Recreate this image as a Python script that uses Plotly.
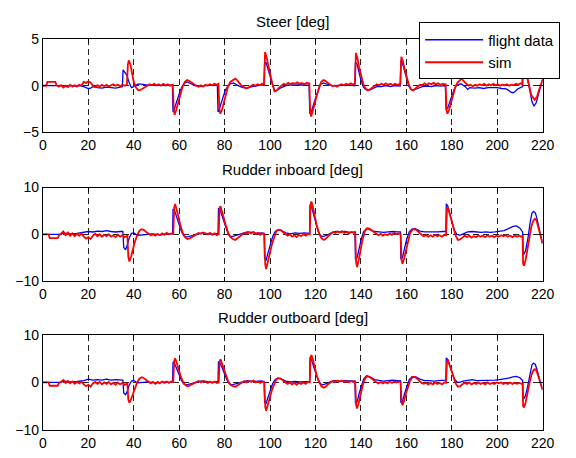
import plotly.graph_objects as go

# Time histories: (time [s], value [deg]) pairs for flight data and simulation.
STEER_FLIGHT = [
    (0, 0), (2, 0), (4, 0.05), (6, 0), (8, 0), (10, 0.05), (12, 0), (14, -0.05), (16, 0), (18, -0.1),
    (19, -0.2), (20, -0.3), (21, -0.25), (22, -0.1), (24, -0.2), (26, -0.25), (28, -0.15), (30, -0.2),
    (32, -0.25), (34, -0.15), (35, -0.1), (35.3, 1.7), (36, 1.5), (37, 1.1), (38, 0.3), (39, -0.2),
    (40, -0.1), (42, 0.2), (44, 0.15), (46, 0.05), (48, 0.1), (50, 0.0), (52, 0.05), (54, 0.0), (56, 0.05),
    (57, 0.0), (57.3, -2.8), (57.8, -2.6), (58.5, -2.0), (59.5, -1.2), (60.5, -0.5), (61.5, 0.0), (62.5, 0.3),
    (63.5, 0.4), (65, 0.2), (67, 0.0), (69, -0.1), (71, 0.0), (73, 0.05), (75, 0.0), (76.8, 0.05),
    (77.1, -2.8), (77.6, -2.6), (78.3, -2.0), (79.3, -1.2), (80.3, -0.5), (81.3, -0.1), (82.5, 0.2),
    (84, 0.3), (86, 0.0), (88, -0.2), (90, -0.25), (92, -0.1), (94, 0.0), (96, 0.05), (97.3, 0.05),
    (97.6, 2.2), (98.2, 2.5), (99, 1.8), (100, 0.9), (101, 0.0), (102, -0.6), (103, -0.5), (105, -0.2),
    (107, 0.0), (109, 0.1), (111, 0.05), (113, 0.1), (115, 0.05), (117.2, 0.05), (117.5, -3.0),
    (118.2, -2.8), (119, -2.1), (120, -1.3), (121, -0.5), (122, 0.1), (123.5, 0.3), (125, 0.15), (127, 0.0),
    (129, 0.0), (131, 0.05), (133, 0.0), (135, 0.05), (137.3, 0.0), (137.6, 2.5), (138.3, 2.3), (139, 1.5),
    (140, 0.6), (141, -0.1), (142, -0.4), (143.5, -0.5), (145, -0.3), (147, -0.1), (149, -0.1), (151, 0.0),
    (153, -0.1), (155, 0.0), (157.3, -0.05), (157.6, 2.7), (158.2, 2.5), (159, 1.7), (160, 0.8), (161, 0.0),
    (162, -0.4), (163, -0.5), (165, -0.3), (167, -0.1), (169, -0.05), (171, -0.1), (173, 0.0), (175, -0.05),
    (177.2, 0.0), (177.5, -2.5), (178.2, -2.4), (179, -1.8), (180, -1.1), (181, -0.4), (182, 0.0),
    (184, 0.2), (186, -0.1), (187, -0.4), (188, -0.2), (190, -0.25), (192, -0.2), (194, -0.3), (196, -0.2),
    (198, -0.2), (200, -0.2), (202, -0.3), (204, -0.35), (205, -0.5), (206, -0.7), (207, -0.75),
    (208, -0.6), (209, -0.35), (210, -0.2), (211.2, -0.1), (211.5, 2.3), (212.3, 2.0), (213.3, 0.8),
    (214.3, -0.6), (215.3, -1.7), (216.2, -2.2), (217.2, -1.8), (218.2, -0.9), (219.2, 0.0), (220, 0.7),
]

STEER_SIM = [
    (0, 0), (1.5, 0), (2, 0.4), (5.5, 0.4), (6, 0.05), (7, -0.1), (8, 0.05), (9, -0.2), (10, 0.0),
    (11, -0.15), (12, 0.1), (13, -0.1), (14, 0.05), (15, -0.1), (16, 0.1), (17, 0.0), (18, 0.4), (19, 0.3),
    (20, 0.45), (21, 0.35), (22, 0.0), (23, -0.15), (24, 0.05), (25, -0.1), (26, 0.1), (27, -0.05),
    (28, 0.1), (29, -0.1), (30, 0.05), (31, 0.15), (32, 0.0), (33, 0.1), (34, -0.05), (35, 0.1), (36, 0.0),
    (37, 0.1), (37.4, 2.2), (37.8, 2.7), (38.5, 2.3), (39.3, 1.2), (40, 0.4), (41, -0.2), (42, -0.5),
    (43, -0.45), (44, -0.3), (45, -0.1), (46, 0.0), (47, 0.15), (48, 0.05), (49, 0.2), (50, 0.05),
    (51, 0.15), (52, 0.0), (53, 0.2), (54, 0.05), (55, 0.15), (56, 0.0), (57.2, 0.1), (57.6, -2.6),
    (58, -3.1), (58.7, -2.6), (59.5, -1.8), (60.5, -0.9), (61.5, -0.1), (62.5, 0.4), (63.5, 0.6),
    (64.5, 0.5), (65.5, 0.3), (66.5, 0.15), (67.5, 0.0), (68.5, -0.1), (69.5, 0.05), (70.5, -0.1),
    (71.5, 0.1), (72.5, 0.0), (73.5, 0.15), (74.5, 0.05), (75.5, 0.2), (76.5, 0.1), (77.3, 0.2),
    (77.7, -2.5), (78.1, -3.0), (78.8, -2.6), (79.6, -1.8), (80.5, -0.9), (81.5, -0.1), (82.5, 0.4),
    (83.5, 0.6), (84.7, 0.75), (85.5, 0.6), (86.5, 0.3), (87.5, 0.0), (88.5, -0.15), (89.5, -0.3),
    (90.5, -0.2), (91.5, -0.05), (92.5, 0.1), (93.5, 0.0), (94.5, 0.15), (95.5, 0.05), (96.5, 0.2),
    (97.4, 0.15), (97.8, 3.6), (98.5, 3.0), (99.2, 2.2), (100, 1.2), (101, 0.2), (102, -0.6), (103, -0.5),
    (104, -0.2), (105, 0.0), (106, 0.2), (107, 0.1), (108, 0.3), (109, 0.15), (110, 0.3), (111, 0.2),
    (112, 0.35), (113, 0.2), (114, 0.3), (115, 0.15), (116, 0.3), (117.3, 0.25), (117.7, -2.8),
    (118.1, -3.3), (118.8, -2.8), (119.6, -2.0), (120.5, -1.1), (121.5, -0.2), (122.5, 0.4), (123.5, 0.6),
    (124.5, 0.5), (125.5, 0.3), (126.5, 0.1), (127.5, -0.05), (128.5, 0.0), (129.5, -0.1), (130.5, 0.05),
    (131.5, 0.15), (132.5, 0.05), (133.5, 0.2), (134.5, 0.1), (135.5, 0.25), (136.5, 0.15), (137.4, 0.2),
    (137.8, 3.5), (138.5, 2.9), (139.2, 2.0), (140, 1.1), (141, 0.2), (142, -0.3), (143, -0.5),
    (144, -0.4), (145, -0.2), (146, 0.0), (147, 0.15), (148, 0.05), (149, 0.2), (150, 0.1), (151, 0.25),
    (152, 0.1), (153, 0.2), (154, 0.05), (155, 0.2), (156, 0.1), (157.4, 0.2), (157.8, 3.1), (158.5, 2.6),
    (159.2, 1.8), (160, 1.0), (161, 0.2), (162, -0.4), (163, -0.5), (164, -0.3), (165, -0.1), (166, 0.1),
    (167, 0.05), (168, 0.25), (169, 0.1), (170, 0.25), (171, 0.15), (172, 0.3), (173, 0.15), (174, 0.25),
    (175, 0.1), (176, 0.2), (177.3, 0.15), (177.7, -2.6), (178.1, -3.0), (178.8, -2.6), (179.6, -1.9),
    (180.5, -1.0), (181.5, -0.2), (182.5, 0.3), (183.5, 0.6), (184.3, 0.75), (185.3, 0.5), (186.3, 0.2),
    (187.3, 0.0), (188.3, 0.1), (189.3, -0.05), (190.3, 0.1), (191.3, 0.0), (192.3, 0.15), (193.3, 0.05),
    (194.3, 0.2), (195.3, 0.0), (196.3, 0.15), (197.3, 0.05), (198.3, 0.2), (199.3, 0.05), (200.3, 0.15),
    (201.3, 0.0), (202.3, 0.1), (203.3, 0.05), (204.3, 0.15), (205.3, 0.0), (206.3, 0.1), (207.3, 0.05),
    (208.3, 0.2), (209.3, 0.1), (210.3, 0.25), (211, 0.15), (211.3, 2.6), (212, 2.3), (213, 1.2),
    (214, 0.0), (215, -1.0), (216.5, -1.5), (217.5, -1.2), (218.5, -0.4), (219.5, 0.3), (220, 0.6),
]

RUDDER_IN_FLIGHT = [
    (0, 0), (4, 0), (8, 0), (9, 0.3), (12, 0.1), (15, 0.2), (18, 0.4), (20, 0.6), (22, 0.5), (24, 0.7),
    (26, 0.6), (28, 0.8), (30, 0.6), (32, 0.5), (34, 0.6), (35.2, 0.6), (35.6, -2.8), (36.4, -3.3),
    (37.2, -2.2), (38, -0.8), (39, 0.2), (40, 0.3), (41, 0.0), (42, -0.2), (44, -0.1), (46, 0.0), (48, 0.1),
    (50, 0.0), (52, -0.1), (54, 0.1), (56, 0.0), (57.1, 0.1), (57.3, 5.4), (58, 5.0), (59, 3.5), (60, 2.0),
    (61, 0.6), (62, -0.3), (63, -0.6), (64, -0.5), (66, -0.3), (68, 0.0), (70, 0.3), (72, 0.2), (74, 0.0),
    (76, 0.1), (77.1, 0.2), (77.3, 5.6), (78, 5.2), (79, 3.8), (80, 2.2), (81, 0.8), (82, -0.2), (83, -0.5),
    (84, -0.4), (86, -0.1), (88, 0.3), (90, 0.5), (92, 0.4), (94, 0.2), (96, 0.3), (97.4, 0.2),
    (97.6, -5.2), (98.3, -5.5), (99.2, -3.8), (100.2, -2.0), (101.2, -0.4), (102.3, 0.6), (103.5, 1.0),
    (105, 0.8), (107, 0.3), (109, 0.1), (111, 0.3), (113, 0.2), (115, 0.3), (117.4, 0.2), (117.6, 6.3),
    (118.3, 5.8), (119.2, 4.0), (120.2, 2.2), (121.2, 0.6), (122.3, -0.3), (123.3, -0.5), (125, -0.2),
    (127, 0.3), (129, 0.6), (131, 0.5), (133, 0.6), (135, 0.4), (137.4, 0.5), (137.6, -5.2), (138.3, -5.0),
    (139.2, -3.0), (140.2, -1.0), (141.2, 0.6), (142.5, 1.2), (144, 1.0), (146, 0.6), (148, 0.5),
    (150, 0.4), (152, 0.5), (154, 0.6), (156, 0.5), (157.4, 0.5), (157.6, -5.3), (158.3, -5.0),
    (159.2, -3.0), (160.2, -1.0), (161.3, 0.5), (162.5, 1.1), (164, 1.2), (166, 0.7), (168, 0.5),
    (170, 0.5), (172, 0.4), (174, 0.5), (176, 0.6), (177.4, 0.6), (177.6, 6.5), (178.3, 6.0), (179.2, 4.3),
    (180.2, 2.4), (181.2, 0.8), (182.3, 0.0), (183.5, -0.2), (185, 0.1), (187, 0.5), (189, 0.6), (191, 0.5),
    (193, 0.4), (195, 0.5), (197, 0.4), (199, 0.5), (201, 0.6), (203, 0.8), (205, 1.2), (207, 1.7),
    (208.5, 1.8), (210, 1.3), (211.2, 0.5), (211.5, -4.4), (212.5, -3.5), (213.5, -1.0), (214.5, 2.5),
    (215.3, 4.5), (216, 4.9), (216.8, 4.6), (217.6, 3.2), (218.5, 1.0), (219.3, -0.6), (220, -1.8),
]

RUDDER_IN_SIM = [
    (0, 0), (2.5, 0), (3, -0.8), (6.5, -0.8), (7, -0.3), (8, 0.2), (9, 0.6), (10, -0.2), (11, 0.4),
    (12, -0.3), (13, 0.2), (14, -0.4), (15, 0.1), (16, -0.3), (17, 0.2), (18, -0.5), (19, -0.9), (20, -0.6),
    (21, -1.0), (22, -0.3), (23, 0.1), (24, -0.4), (25, 0.0), (26, -0.5), (27, -0.1), (28, -0.4), (29, 0.0),
    (30, -0.5), (31, -0.2), (32, -0.6), (33, -0.1), (34, -0.5), (35, -0.2), (36, -0.6), (37.2, -0.3),
    (37.6, -4.8), (38.1, -5.8), (38.8, -4.8), (39.6, -3.2), (40.5, -1.6), (41.5, -0.2), (42.5, 0.8),
    (43.5, 1.1), (44.5, 0.9), (45.5, 0.5), (46.5, 0.1), (47.5, -0.2), (48.5, 0.0), (49.5, -0.3), (50.5, 0.1),
    (51.5, -0.2), (52.5, 0.2), (53.5, -0.1), (54.5, 0.3), (55.5, 0.0), (56.5, 0.2), (57.4, 0.1), (57.8, 5.8),
    (58.2, 6.5), (58.9, 5.3), (59.7, 3.5), (60.6, 1.8), (61.6, 0.3), (62.6, -0.6), (63.6, -1.0),
    (64.6, -0.9), (65.6, -0.6), (66.6, -0.2), (67.6, 0.0), (68.6, 0.3), (69.6, 0.1), (70.6, 0.4),
    (71.6, 0.2), (72.6, 0.0), (73.6, 0.3), (74.6, -0.1), (75.6, 0.2), (76.6, -0.2), (77.4, 0.0), (77.8, 5.6),
    (78.2, 6.0), (78.9, 5.0), (79.7, 3.4), (80.6, 1.8), (81.6, 0.3), (82.6, -0.6), (83.6, -1.0),
    (84.7, -1.2), (85.7, -0.8), (86.7, -0.3), (87.7, 0.0), (88.7, 0.3), (89.7, 0.1), (90.7, 0.4),
    (91.7, 0.2), (92.7, 0.5), (93.7, 0.1), (94.7, 0.3), (95.7, -0.1), (96.7, 0.2), (97.5, 0.0), (97.9, -6.5),
    (98.3, -7.4), (99, -6.2), (99.8, -4.3), (100.7, -2.4), (101.7, -0.6), (102.7, 0.6), (103.7, 1.0),
    (104.7, 0.9), (105.7, 0.5), (106.7, 0.1), (107.7, -0.3), (108.7, 0.0), (109.7, -0.5), (110.7, -0.2),
    (111.7, -0.6), (112.7, -0.1), (113.7, -0.4), (114.7, 0.0), (115.7, -0.3), (116.7, 0.1), (117.5, 0.0),
    (117.8, 6.2), (118.2, 7.0), (118.9, 5.8), (119.7, 3.8), (120.6, 1.8), (121.6, 0.2), (122.6, -0.8),
    (123.7, -1.2), (124.7, -0.9), (125.7, -0.3), (126.7, 0.2), (127.7, 0.5), (128.7, 0.3), (129.7, 0.6),
    (130.7, 0.4), (131.7, 0.7), (132.7, 0.3), (133.7, 0.5), (134.7, 0.2), (135.7, 0.5), (136.7, 0.3),
    (137.5, 0.4), (137.9, -6.0), (138.3, -7.0), (139, -5.6), (139.8, -3.4), (140.7, -1.2), (141.7, 0.6),
    (142.7, 1.3), (143.7, 1.2), (144.7, 0.8), (145.7, 0.4), (146.7, 0.1), (147.7, -0.2), (148.7, 0.1),
    (149.7, -0.3), (150.7, 0.0), (151.7, -0.2), (152.7, 0.2), (153.7, -0.1), (154.7, 0.3), (155.7, 0.0),
    (156.7, 0.2), (157.5, 0.1), (157.9, -5.5), (158.3, -6.3), (159, -5.2), (159.8, -3.4), (160.7, -1.4),
    (161.7, 0.3), (162.7, 1.0), (163.7, 1.1), (164.7, 0.8), (165.7, 0.3), (166.7, -0.1), (167.7, -0.4),
    (168.7, -0.2), (169.7, -0.5), (170.7, -0.2), (171.7, -0.5), (172.7, -0.1), (173.7, -0.4), (174.7, -0.2),
    (175.7, -0.5), (176.7, -0.1), (177.5, -0.2), (177.9, 5.3), (178.3, 5.8), (179, 4.6), (179.8, 3.0),
    (180.7, 1.3), (181.7, -0.3), (182.7, -1.2), (183.7, -1.1), (184.7, -0.7), (185.7, -0.3), (186.7, -0.6),
    (187.7, -0.3), (188.7, -0.7), (189.7, -0.4), (190.7, -0.6), (191.7, -0.2), (192.7, -0.5), (193.7, -0.3),
    (194.7, -0.6), (195.7, -0.2), (196.7, -0.5), (197.7, -0.3), (198.7, -0.6), (199.7, -0.3), (200.7, -0.5),
    (201.7, -0.2), (202.7, -0.4), (203.7, -0.2), (204.7, -0.5), (205.7, -0.3), (206.7, -0.6), (207.7, -0.3),
    (208.7, -0.5), (209.7, -0.3), (210.7, -0.5), (211.2, -0.4), (211.4, -6.3), (211.8, -6.7), (212.5, -5.5),
    (213.3, -3.0), (214.2, -0.5), (215.1, 1.8), (216, 3.0), (216.6, 3.3), (217.3, 3.0), (218.2, 1.5),
    (219.2, -0.5), (220, -2.0),
]

RUDDER_OUT_FLIGHT = [
    (0, 0), (8, 0), (9, 0.3), (12, 0.1), (15, 0.2), (18, 0.4), (20, 0.7), (22, 0.5), (24, 0.6), (26, 0.5),
    (28, 0.7), (30, 0.5), (32, 0.6), (34, 0.5), (35.2, 0.5), (35.6, -2.2), (36.4, -2.6), (37.2, -1.8),
    (38, -0.6), (39, 0.3), (40, 0.4), (41, 0.1), (42, -0.1), (44, 0.0), (46, 0.1), (48, 0.0), (50, -0.1),
    (52, 0.0), (54, 0.1), (56, 0.0), (57.1, 0.1), (57.3, 4.3), (58, 4.0), (59, 2.8), (60, 1.6), (61, 0.4),
    (62, -0.3), (63, -0.5), (64, -0.4), (66, -0.2), (68, 0.1), (70, 0.3), (72, 0.2), (74, 0.0), (76, 0.1),
    (77.1, 0.2), (77.3, 4.4), (78, 4.1), (79, 3.0), (80, 1.7), (81, 0.6), (82, -0.2), (83, -0.5), (84, -0.4),
    (86, -0.1), (88, 0.2), (90, 0.4), (92, 0.3), (94, 0.2), (96, 0.3), (97.4, 0.2), (97.6, -4.2),
    (98.3, -4.4), (99.2, -3.0), (100.2, -1.5), (101.2, -0.2), (102.3, 0.6), (103.5, 0.9), (105, 0.7),
    (107, 0.3), (109, 0.1), (111, 0.2), (113, 0.1), (115, 0.2), (117.4, 0.2), (117.6, 5.3), (118.3, 4.8),
    (119.2, 3.3), (120.2, 1.8), (121.2, 0.5), (122.3, -0.3), (123.3, -0.5), (125, -0.2), (127, 0.2),
    (129, 0.4), (131, 0.3), (133, 0.4), (135, 0.3), (137.4, 0.3), (137.6, -4.4), (138.3, -4.1),
    (139.2, -2.4), (140.2, -0.7), (141.2, 0.7), (142.5, 1.4), (144, 1.2), (146, 0.6), (148, 0.4),
    (150, 0.3), (152, 0.4), (154, 0.5), (156, 0.4), (157.4, 0.4), (157.6, -4.3), (158.3, -4.0),
    (159.2, -2.4), (160.2, -0.7), (161.3, 0.6), (162.5, 1.2), (164, 1.2), (166, 0.7), (168, 0.4),
    (170, 0.4), (172, 0.3), (174, 0.4), (176, 0.5), (177.4, 0.5), (177.6, 5.2), (178.3, 4.8), (179.2, 3.4),
    (180.2, 1.9), (181.2, 0.7), (182.3, 0.1), (183.5, 0.0), (185, 0.3), (187, 0.5), (189, 0.6), (191, 0.4),
    (193, 0.4), (195, 0.5), (197, 0.4), (199, 0.5), (201, 0.6), (203, 0.7), (205, 0.9), (207, 1.2),
    (208.5, 1.3), (210, 1.0), (211.2, 0.4), (211.5, -3.6), (212.5, -2.8), (213.5, -0.6), (214.5, 2.2),
    (215.3, 3.7), (216, 4.1), (216.8, 3.8), (217.6, 2.6), (218.5, 0.8), (219.3, -0.5), (220, -1.4),
]

RUDDER_OUT_SIM = [
    (0, 0), (2.5, 0), (3, -0.7), (6.5, -0.7), (7, -0.2), (8, 0.2), (9, 0.5), (10, -0.1), (11, 0.3),
    (12, -0.2), (13, 0.2), (14, -0.3), (15, 0.1), (16, -0.2), (17, 0.2), (18, -0.4), (19, -0.8), (20, -0.5),
    (21, -0.9), (22, -0.2), (23, 0.1), (24, -0.3), (25, 0.1), (26, -0.4), (27, 0.0), (28, -0.3), (29, 0.1),
    (30, -0.4), (31, -0.1), (32, -0.5), (33, 0.0), (34, -0.4), (35, -0.1), (36, -0.5), (37.2, -0.2),
    (37.6, -3.6), (38.1, -4.3), (38.8, -3.6), (39.6, -2.4), (40.5, -1.1), (41.5, 0.0), (42.5, 0.8),
    (43.5, 1.1), (44.5, 0.9), (45.5, 0.5), (46.5, 0.1), (47.5, -0.2), (48.5, 0.1), (49.5, -0.3), (50.5, 0.1),
    (51.5, -0.2), (52.5, 0.2), (53.5, -0.1), (54.5, 0.2), (55.5, -0.1), (56.5, 0.2), (57.4, 0.1),
    (57.8, 4.5), (58.2, 5.1), (58.9, 4.2), (59.7, 2.8), (60.6, 1.4), (61.6, 0.2), (62.6, -0.5), (63.6, -0.8),
    (64.6, -0.7), (65.6, -0.4), (66.6, -0.1), (67.6, 0.1), (68.6, 0.3), (69.6, 0.0), (70.6, 0.3),
    (71.6, 0.1), (72.6, -0.1), (73.6, 0.2), (74.6, -0.1), (75.6, 0.2), (76.6, -0.1), (77.4, 0.0),
    (77.8, 4.4), (78.2, 4.9), (78.9, 4.0), (79.7, 2.7), (80.6, 1.4), (81.6, 0.2), (82.6, -0.5), (83.6, -0.8),
    (84.7, -0.9), (85.7, -0.6), (86.7, -0.2), (87.7, 0.0), (88.7, 0.3), (89.7, 0.0), (90.7, 0.3),
    (91.7, 0.1), (92.7, 0.4), (93.7, 0.0), (94.7, 0.2), (95.7, -0.1), (96.7, 0.2), (97.5, 0.0), (97.9, -5.2),
    (98.3, -6.0), (99, -5.0), (99.8, -3.4), (100.7, -1.8), (101.7, -0.4), (102.7, 0.6), (103.7, 0.9),
    (104.7, 0.8), (105.7, 0.4), (106.7, 0.0), (107.7, -0.3), (108.7, 0.0), (109.7, -0.4), (110.7, -0.1),
    (111.7, -0.5), (112.7, -0.1), (113.7, -0.3), (114.7, 0.0), (115.7, -0.3), (116.7, 0.1), (117.5, 0.0),
    (117.8, 5.2), (118.2, 5.8), (118.9, 4.8), (119.7, 3.1), (120.6, 1.4), (121.6, 0.1), (122.6, -0.8),
    (123.7, -1.1), (124.7, -0.8), (125.7, -0.3), (126.7, 0.1), (127.7, 0.3), (128.7, 0.1), (129.7, 0.4),
    (130.7, 0.2), (131.7, 0.4), (132.7, 0.1), (133.7, 0.3), (134.7, 0.0), (135.7, 0.3), (136.7, 0.1),
    (137.5, 0.2), (137.9, -4.8), (138.3, -5.5), (139, -4.4), (139.8, -2.6), (140.7, -0.8), (141.7, 0.7),
    (142.7, 1.3), (143.7, 1.2), (144.7, 0.8), (145.7, 0.4), (146.7, 0.1), (147.7, -0.2), (148.7, 0.1),
    (149.7, -0.2), (150.7, 0.1), (151.7, -0.2), (152.7, 0.2), (153.7, -0.1), (154.7, 0.2), (155.7, 0.0),
    (156.7, 0.2), (157.5, 0.1), (157.9, -4.2), (158.3, -4.8), (159, -3.9), (159.8, -2.4), (160.7, -0.9),
    (161.7, 0.4), (162.7, 1.1), (163.7, 1.2), (164.7, 0.8), (165.7, 0.3), (166.7, -0.1), (167.7, -0.3),
    (168.7, -0.1), (169.7, -0.4), (170.7, -0.1), (171.7, -0.4), (172.7, 0.0), (173.7, -0.3), (174.7, -0.1),
    (175.7, -0.4), (176.7, 0.0), (177.5, -0.1), (177.9, 4.3), (178.3, 4.8), (179, 3.8), (179.8, 2.4),
    (180.7, 1.0), (181.7, -0.2), (182.7, -0.9), (183.7, -0.8), (184.7, -0.4), (185.7, -0.1), (186.7, -0.3),
    (187.7, 0.0), (188.7, -0.4), (189.7, -0.1), (190.7, -0.3), (191.7, 0.0), (192.7, -0.3), (193.7, -0.1),
    (194.7, -0.4), (195.7, 0.0), (196.7, -0.3), (197.7, -0.1), (198.7, -0.3), (199.7, 0.0), (200.7, -0.2),
    (201.7, 0.0), (202.7, -0.3), (203.7, -0.1), (204.7, -0.3), (205.7, 0.0), (206.7, -0.3), (207.7, -0.1),
    (208.7, -0.3), (209.7, -0.1), (210.7, -0.3), (211.2, -0.2), (211.4, -5.0), (211.8, -5.3), (212.5, -4.3),
    (213.3, -2.2), (214.2, -0.2), (215.1, 1.6), (216, 2.6), (216.6, 2.8), (217.3, 2.5), (218.2, 1.2),
    (219.2, -0.4), (220, -1.6),
]

PANEL_TITLES = ["Steer [deg]", "Rudder inboard [deg]", "Rudder outboard [deg]"]
Y_TICKS = [[-5, 0, 5], [-10, 0, 10], [-10, 0, 10]]
X_TICKS = list(range(0, 221, 20))
SERIES_NAMES = ["flight data", "sim"]

PANELS = [
    (STEER_FLIGHT, STEER_SIM),
    (RUDDER_IN_FLIGHT, RUDDER_IN_SIM),
    (RUDDER_OUT_FLIGHT, RUDDER_OUT_SIM),
]

W, H = 576, 458
FONT = "Liberation Sans, Arial, Helvetica, sans-serif"

# Pixel layout of the three stacked axes (left, right, top, bottom)
X_LEFT, X_RIGHT = 40, 554
ROWS = [(32, 129), (186, 283), (339, 437)]
TITLE_Y = [14, 167, 321]

fig = go.Figure()

for i, (flight, sim) in enumerate(PANELS):
    xa = "x" if i == 0 else f"x{i + 1}"
    ya = "y" if i == 0 else f"y{i + 1}"
    fig.add_trace(go.Scatter(
        x=[p[0] for p in flight], y=[p[1] for p in flight], xaxis=xa, yaxis=ya,
        mode="lines", name=SERIES_NAMES[0], showlegend=(i == 0),
        line=dict(color="#0000ff", width=1.3),
    ))
    fig.add_trace(go.Scatter(
        x=[p[0] for p in sim], y=[p[1] for p in sim], xaxis=xa, yaxis=ya,
        mode="lines", name=SERIES_NAMES[1], showlegend=(i == 0),
        line=dict(color="#ff0000", width=1.8),
    ))

axis_common = dict(
    showline=True, linecolor="black", linewidth=1, mirror="ticks",
    ticks="inside", ticklen=4, tickcolor="black",
    showgrid=True, gridcolor="#222222", gridwidth=1, griddash="6px,4px",
    zeroline=False, tickfont=dict(family=FONT, size=14, color="black"),
)

layout = dict(
    width=W, height=H, margin=dict(l=0, r=0, t=0, b=0),
    paper_bgcolor="white", plot_bgcolor="white",
    showlegend=True,
    legend=dict(
        x=427 / W, y=1 - 15 / H, xanchor="left", yanchor="top",
        bgcolor="white", bordercolor="black", borderwidth=1,
        font=dict(family=FONT, size=15, color="black"),
        itemwidth=58, tracegroupgap=0,
    ),
)

annotations = []
for i, ((top, bottom), ty) in enumerate(zip(ROWS, TITLE_Y)):
    sx = "xaxis" if i == 0 else f"xaxis{i + 1}"
    sy = "yaxis" if i == 0 else f"yaxis{i + 1}"
    anchor_y = "y" if i == 0 else f"y{i + 1}"
    anchor_x = "x" if i == 0 else f"x{i + 1}"
    lo, hi = Y_TICKS[i][0], Y_TICKS[i][-1]
    layout[sx] = dict(
        axis_common, domain=[X_LEFT / W, X_RIGHT / W], range=[0, 220],
        tickvals=X_TICKS, anchor=anchor_y,
    )
    layout[sy] = dict(
        axis_common, domain=[1 - bottom / H, 1 - top / H], range=[lo, hi],
        tickvals=Y_TICKS[i], anchor=anchor_x,
    )
    annotations.append(dict(
        text=PANEL_TITLES[i], x=(X_LEFT + X_RIGHT) / 2 / W, y=1 - ty / H,
        xref="paper", yref="paper", xanchor="center", yanchor="middle",
        showarrow=False, font=dict(family=FONT, size=15, color="black"),
    ))

layout["annotations"] = annotations
fig.update_layout(**layout)

fig.write_html("out.html")
